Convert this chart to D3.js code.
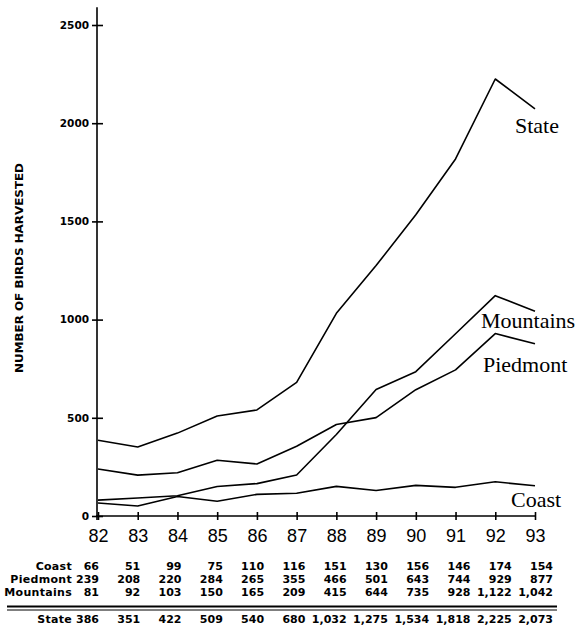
<!DOCTYPE html>
<html>
  <head>
    <meta charset="UTF-8" />
    <style>
      body {
        margin: 0;
        background-color: #ffffff;
      }
      .series {
        fill: none;
        stroke: #000;
        stroke-width: 1.6;
        stroke-linejoin: round;
      }
      .axis line,
      .axis path {
        stroke: #000;
        stroke-width: 1.6;
      }
      .ylab {
        font-family: "DejaVu Sans", sans-serif;
        font-weight: bold;
        font-size: 10.5px;
      }
      .xlab {
        font-family: "Liberation Sans", Arial, sans-serif;
        font-size: 18px;
      }
      .name {
        font-family: "Liberation Serif", "Times New Roman", serif;
        font-size: 22px;
      }
      .cell {
        font-family: "DejaVu Sans", sans-serif;
        font-weight: bold;
        font-size: 11px;
      }
    </style>
  </head>

  <body>
    <div id="container">
      <svg></svg>
    </div>

    <script src="https://d3js.org/d3.v7.min.js"></script>
    <script>
      const years = [82, 83, 84, 85, 86, 87, 88, 89, 90, 91, 92, 93];
      const coast = [66, 51, 99, 75, 110, 116, 151, 130, 156, 146, 174, 154];
      const piedmont = [239, 208, 220, 284, 265, 355, 466, 501, 643, 744, 929, 877];
      const mountains = [81, 92, 103, 150, 165, 209, 415, 644, 735, 928, 1122, 1042];
      const state = [386, 351, 422, 509, 540, 680, 1032, 1275, 1534, 1818, 2225, 2073];
      const yTicks = [0, 500, 1000, 1500, 2000, 2500];
      const seriesNames = ["State", "Mountains", "Piedmont", "Coast"];
      const tableRows = ["Coast", "Piedmont", "Mountains"];

      const width = 576;
      const height = 628;

      const svg = d3
        .select("svg")
        .attr("width", width)
        .attr("height", height)
        .attr("viewBox", "0 0 " + width + " " + height);

      const x = d3.scaleLinear().domain([82, 93]).range([98, 535]);
      const y = d3.scaleLinear().domain([0, 2500]).range([516, 25]);

      // y axis
      svg
        .append("line")
        .attr("x1", x(82) - 1)
        .attr("x2", x(82) - 1)
        .attr("y1", y(0) + 4)
        .attr("y2", y(2590))
        .attr("stroke", "#000")
        .attr("stroke-width", 1.6);

      const yAxis = svg
        .append("g")
        .attr("class", "axis")
        .attr("transform", `translate(${x(82) - 1}, 0)`)
        .call(
          d3
            .axisLeft(y)
            .tickValues(yTicks)
            .tickFormat(d3.format("d"))
            .tickSize(5)
            .tickPadding(3)
            .tickSizeOuter(0)
        );
      yAxis.select(".domain").remove();
      yAxis.selectAll(".tick line").attr("x1", 6).attr("x2", -5);
      yAxis
        .selectAll(".tick text")
        .attr("class", "ylab")
        .attr("font-family", null)
        .attr("font-size", null);

      // x axis
      const xAxis = svg
        .append("g")
        .attr("class", "axis")
        .attr("transform", `translate(0, ${y(0)})`)
        .call(
          d3
            .axisBottom(x)
            .tickValues(years)
            .tickFormat(d3.format("d"))
            .tickSize(4)
            .tickPadding(9)
            .tickSizeOuter(0)
        );
      xAxis.select(".domain").attr("d", `M${x(82) - 2},0H${x(93)}`);
      xAxis.selectAll(".tick line").attr("y1", -4).attr("y2", 4);
      xAxis
        .selectAll(".tick text")
        .attr("class", "xlab")
        .attr("font-family", null)
        .attr("font-size", null);

      // y axis title
      svg
        .append("text")
        .attr("transform", "translate(23, 268) rotate(-90)")
        .attr("text-anchor", "middle")
        .attr("font-family", "'DejaVu Sans', sans-serif")
        .attr("font-weight", "bold")
        .attr("font-size", "11px")
        .attr("textLength", 210)
        .attr("lengthAdjust", "spacingAndGlyphs")
        .text("NUMBER OF BIRDS HARVESTED");

      // lines
      const seriesValues = [state, mountains, piedmont, coast];
      const line = d3
        .line()
        .x((d, i) => x(years[i]))
        .y((d) => y(d));

      svg
        .selectAll(".series")
        .data(seriesValues)
        .enter()
        .append("path")
        .attr("class", "series")
        .attr("d", (d) => line(d));

      // series labels
      const labelPos = [
        [515, 133],
        [481, 328],
        [483, 372],
        [511, 507],
      ];
      svg
        .selectAll(".name")
        .data(seriesNames)
        .enter()
        .append("text")
        .attr("class", "name")
        .attr("x", (d, i) => labelPos[i][0])
        .attr("y", (d, i) => labelPos[i][1])
        .text((d) => d);

      // table below the chart
      const col = d3.scaleLinear().domain([0, 11]).range([99, 553]);
      const rowY = [570, 583, 596];
      const fmt = d3.format(",");
      const tableValues = [coast, piedmont, mountains];

      function addRow(name, values, yy, cls) {
        svg
          .append("text")
          .attr("class", "cell")
          .attr("x", 72)
          .attr("y", yy)
          .attr("text-anchor", "end")
          .attr("letter-spacing", 0.3)
          .text(name);
        svg
          .selectAll("." + cls)
          .data(values)
          .enter()
          .append("text")
          .attr("class", "cell " + cls)
          .attr("x", (d, i) => col(i))
          .attr("y", yy)
          .attr("text-anchor", "end")
          .text((d) => fmt(d));
      }

      tableRows.forEach((name, r) => addRow(name, tableValues[r], rowY[r], "row" + r));

      svg
        .append("line")
        .attr("x1", 7)
        .attr("x2", 557)
        .attr("y1", 606.5)
        .attr("y2", 606.5)
        .attr("stroke", "#000")
        .attr("stroke-width", 1.8);
      svg
        .append("line")
        .attr("x1", 7)
        .attr("x2", 557)
        .attr("y1", 610)
        .attr("y2", 610)
        .attr("stroke", "#000")
        .attr("stroke-width", 1);

      addRow("State", state, 623, "rowS");
    </script>
  </body>
</html>
